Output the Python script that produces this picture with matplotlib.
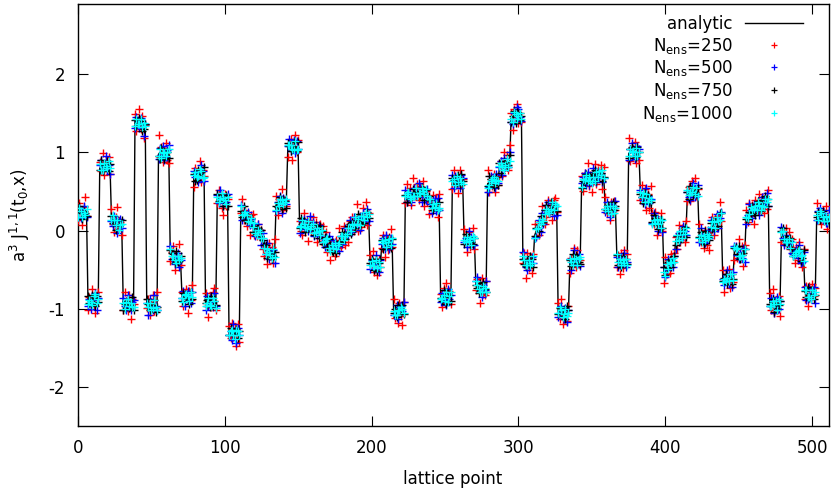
import numpy as np
import matplotlib
matplotlib.use("Agg")
import matplotlib.pyplot as plt

plt.rcParams['font.family'] = ['DejaVu Sans']
plt.rcParams['mathtext.default'] = 'regular'
plt.rcParams['axes.unicode_minus'] = False

# Analytic curve, read per block of 8 lattice points.
# Row k holds lattice points 8k-1 ... 8k+6 (row 0 starts with point 511, periodic lattice).
analytic_blocks = [
    [0.15, 0.22, 0.23, 0.24, 0.22, 0.21, 0.22, 0.23],
    [-0.90, -0.91, -0.90, -0.89, -0.88, -0.88, -0.89, -0.88],
    [0.80, 0.81, 0.82, 0.83, 0.84, 0.84, 0.83, 0.82],
    [0.15, 0.14, 0.12, 0.10, 0.08, 0.07, 0.06, 0.05],
    [-0.94, -0.95, -0.95, -0.94, -0.94, -0.93, -0.94, -0.95],
    [1.40, 1.40, 1.39, 1.38, 1.36, 1.35, 1.33, 1.32],
    [-0.96, -0.97, -0.97, -0.96, -0.96, -0.95, -0.96, -0.97],
    [0.98, 0.99, 0.99, 0.98, 0.98, 0.97, 0.97, 0.98],
    [-0.30, -0.31, -0.33, -0.34, -0.35, -0.36, -0.37, -0.38],
    [-0.84, -0.85, -0.85, -0.86, -0.86, -0.85, -0.85, -0.84],
    [0.70, 0.71, 0.72, 0.72, 0.73, 0.73, 0.72, 0.72],
    [-0.92, -0.93, -0.93, -0.92, -0.92, -0.91, -0.92, -0.93],
    [0.40, 0.41, 0.42, 0.42, 0.41, 0.40, 0.40, 0.39],
    [-1.30, -1.31, -1.32, -1.33, -1.34, -1.33, -1.32, -1.31],
    [0.24, 0.23, 0.22, 0.20, 0.18, 0.16, 0.13, 0.11],
    [0.06, 0.04, 0.02, 0.00, -0.02, -0.04, -0.07, -0.10],
    [-0.24, -0.26, -0.27, -0.28, -0.29, -0.30, -0.30, -0.31],
    [0.33, 0.34, 0.34, 0.35, 0.35, 0.36, 0.37, 0.38],
    [1.06, 1.07, 1.08, 1.09, 1.09, 1.08, 1.07, 1.06],
    [0.08, 0.08, 0.07, 0.07, 0.06, 0.06, 0.07, 0.07],
    [0.05, 0.04, 0.03, 0.01, 0.00, -0.02, -0.03, -0.05],
    [-0.10, -0.12, -0.14, -0.16, -0.18, -0.20, -0.22, -0.24],
    [-0.22, -0.20, -0.17, -0.15, -0.12, -0.10, -0.07, -0.05],
    [-0.02, 0.00, 0.02, 0.04, 0.06, 0.08, 0.10, 0.12],
    [0.12, 0.13, 0.14, 0.15, 0.16, 0.18, 0.19, 0.20],
    [-0.40, -0.41, -0.42, -0.43, -0.44, -0.44, -0.43, -0.42],
    [-0.18, -0.17, -0.16, -0.15, -0.14, -0.13, -0.13, -0.14],
    [-1.02, -1.03, -1.04, -1.04, -1.03, -1.03, -1.02, -1.02],
    [0.42, 0.43, 0.44, 0.45, 0.46, 0.47, 0.48, 0.48],
    [0.50, 0.50, 0.49, 0.49, 0.48, 0.48, 0.47, 0.46],
    [0.36, 0.35, 0.34, 0.33, 0.32, 0.31, 0.30, 0.30],
    [-0.84, -0.85, -0.85, -0.86, -0.86, -0.85, -0.85, -0.84],
    [0.62, 0.63, 0.64, 0.64, 0.65, 0.65, 0.64, 0.64],
    [-0.10, -0.11, -0.12, -0.12, -0.13, -0.13, -0.12, -0.12],
    [-0.70, -0.71, -0.72, -0.73, -0.74, -0.74, -0.73, -0.72],
    [0.60, 0.61, 0.62, 0.62, 0.63, 0.63, 0.62, 0.62],
    [0.80, 0.82, 0.83, 0.84, 0.85, 0.86, 0.87, 0.88],
    [1.44, 1.45, 1.46, 1.47, 1.48, 1.48, 1.47, 1.46],
    [-0.38, -0.39, -0.40, -0.41, -0.41, -0.40, -0.40, -0.39],
    [-0.06, -0.02, 0.02, 0.06, 0.10, 0.14, 0.18, 0.22],
    [0.26, 0.27, 0.28, 0.29, 0.30, 0.30, 0.29, 0.28],
    [-1.03, -1.04, -1.05, -1.06, -1.06, -1.05, -1.05, -1.04],
    [-0.40, -0.39, -0.38, -0.37, -0.37, -0.38, -0.38, -0.39],
    [0.62, 0.63, 0.64, 0.65, 0.66, 0.66, 0.65, 0.65],
    [0.68, 0.69, 0.70, 0.71, 0.72, 0.72, 0.71, 0.70],
    [0.30, 0.29, 0.28, 0.28, 0.27, 0.27, 0.28, 0.28],
    [-0.36, -0.37, -0.38, -0.39, -0.40, -0.40, -0.39, -0.38],
    [0.99, 1.00, 1.01, 1.01, 1.00, 1.00, 0.99, 0.99],
    [0.46, 0.45, 0.44, 0.43, 0.42, 0.41, 0.41, 0.40],
    [0.14, 0.13, 0.12, 0.11, 0.10, 0.10, 0.09, 0.09],
    [-0.55, -0.52, -0.49, -0.46, -0.43, -0.40, -0.37, -0.35],
    [-0.12, -0.10, -0.08, -0.06, -0.04, -0.03, -0.02, 0.00],
    [0.47, 0.48, 0.49, 0.50, 0.50, 0.51, 0.51, 0.50],
    [-0.07, -0.08, -0.09, -0.10, -0.10, -0.09, -0.09, -0.08],
    [0.04, 0.06, 0.08, 0.10, 0.13, 0.15, 0.18, 0.20],
    [-0.60, -0.61, -0.62, -0.62, -0.63, -0.62, -0.61, -0.60],
    [-0.25, -0.26, -0.27, -0.28, -0.29, -0.29, -0.30, -0.30],
    [0.19, 0.21, 0.22, 0.24, 0.25, 0.27, 0.28, 0.30],
    [0.31, 0.32, 0.33, 0.34, 0.35, 0.36, 0.37, 0.38],
    [-0.92, -0.93, -0.94, -0.95, -0.95, -0.95, -0.94, -0.93],
    [-0.04, -0.06, -0.08, -0.10, -0.12, -0.14, -0.17, -0.19],
    [-0.27, -0.28, -0.29, -0.30, -0.31, -0.32, -0.32, -0.33],
    [-0.79, -0.80, -0.81, -0.82, -0.82, -0.81, -0.81, -0.80],
    [0.21, 0.20, 0.19, 0.18, 0.17, 0.16, 0.15, 0.14],
]

# Ensemble estimates: offsets from the analytic value, in units of 0.01,
# same block layout as above.
offsets_250 = """
5 -8 12 3 -15 9 21 -4
-11 6 -3 14 -7 -18 2 10
8 -5 17 -12 4 -2 11 -9
13 -6 -14 7 22 -3 5 -10
-7 16 3 -9 11 -20 6 1
9 -13 -4 18 -6 12 -15 3
-3 10 -11 5 14 -8 -2 19
24 -5 8 -10 3 15 -7 -12
-9 4 13 -16 7 -3 20 -6
6 -12 2 11 -19 8 -4 14
-14 9 -7 3 16 -11 5 -2
12 -3 -17 8 -6 13 19 -8
-5 11 4 -13 -21 7 -9 2
8 -6 14 -3 10 -15 12 -11
-2 17 -9 6 -12 4 -18 9
15 -10 3 -7 11 -4 8 -14
-8 5 -16 12 -3 9 -11 20
11 -14 7 -5 18 -9 2 -6
-12 3 9 -18 6 14 -7 10
4 -9 -13 15 -2 8 -20 7
-6 13 -4 10 -15 3 11 -8
16 -7 12 -11 5 -17 -3 9
-10 8 -5 19 -9 2 13 -14
7 -15 10 -3 12 -8 -1 22
-13 6 -9 14 -6 18 -12 3
9 -2 16 -10 4 -13 7 -5
-4 12 -18 8 -11 5 15 -7
14 -9 3 -14 10 -6 -19 11
-7 17 -5 9 -13 20 -3 6
10 -11 8 -4 15 -16 4 -9
-15 5 -8 13 -2 9 -12 17
3 -13 11 -7 19 -5 8 -10
-9 14 -3 6 -17 12 -6 2
12 -4 -15 10 -8 3 16 -11
-6 9 5 -19 13 -7 -10 8
18 -12 4 -5 10 -14 7 -3
-11 7 -13 16 -4 11 -9 21
6 -16 9 -2 14 -10 3 -7
-3 10 -20 12 -7 5 -14 9
15 -5 7 -11 2 17 -8 -13
-8 12 -6 4 -16 9 13 -4
11 -9 18 -13 6 -3 -11 7
-14 4 -7 15 -10 13 -5 2
8 -12 10 -4 20 -9 6 -15
-5 16 -10 7 -3 12 -18 11
13 -7 4 -14 9 -5 10 -2
-10 6 -17 11 -8 15 -4 8
19 -11 5 -6 13 -13 2 -9
-7 14 -3 10 -15 6 -12 17
9 -4 12 -16 3 -8 14 -10
-12 18 -6 5 -11 10 -2 7
4 -14 15 -9 7 -4 -13 12
-9 8 -11 13 -5 16 -7 3
16 -6 2 -12 11 -10 9 -17
-4 11 -14 6 -9 4 18 -8
10 -17 7 -3 14 -12 5 -6
-13 3 -8 17 -6 9 -15 12
7 -10 13 -5 8 -18 11 -2
-6 15 -4 9 -12 6 -9 14
12 -8 19 -11 4 -7 10 -16
-11 5 -9 14 -3 12 -6 8
5 -13 8 -7 16 -9 -14 10
-8 9 -16 11 -5 13 -3 6
14 -7 6 -10 9 -4 17 -12
"""

offsets_500 = """
12 -4 6 -8 3 10 -2 -6
-7 3 -10 5 -1 8 -13 2
4 9 -5 -2 11 -6 1 -9
-3 -8 7 2 -11 5 9 -1
8 -2 -6 12 -4 -9 3 6
-9 5 1 -7 8 2 -12 4
3 -11 9 -3 -6 13 -1 -5
-6 7 -2 10 -8 -3 6 11
10 -5 4 -9 2 7 -10 1
-2 8 -12 3 9 -4 -7 5
6 -3 2 -10 -5 11 4 -8
-10 9 -4 6 1 -7 12 -3
5 -6 10 -1 -9 3 -4 8
-4 2 -8 13 6 -11 7 -2
9 -10 3 -5 -2 8 -6 4
-1 6 -9 2 10 -3 -11 7
7 -4 11 -8 3 -1 5 -10
-8 3 -2 9 -12 6 1 -4
2 10 -6 -3 7 -9 8 -1
-11 -2 5 8 -4 3 -7 12
4 7 -10 1 -6 9 -3 -5
-5 -9 6 -4 11 -2 10 3
8 1 -3 -11 5 -7 2 9
-3 -6 12 4 -8 10 -5 -1
6 -12 2 7 -3 -4 9 -8
-9 4 -1 -6 13 2 -10 5
1 8 -7 10 -2 -11 4 -3
-6 -3 9 -9 5 7 -1 11
10 -7 -4 3 -10 1 6 -2
-2 11 5 -12 4 -5 -8 7
3 -1 -11 6 8 -6 12 -4
-7 5 2 -3 -9 10 -2 1
9 -8 6 -1 -4 -10 7 3
-4 2 -9 11 1 5 -6 -7
5 12 -2 -6 -11 4 -3 8
-10 -5 8 2 6 -9 11 -1
2 7 -12 9 -3 -2 -5 13
-5 -9 4 -4 10 8 -1 -6
11 3 -7 -10 2 -4 6 -3
-3 -6 1 8 -12 9 -9 4
7 10 -5 -2 5 -11 3 -8
-8 -1 9 4 -7 6 -12 2
4 -11 -3 12 -1 -5 8 -6
-1 6 10 -7 9 -8 -2 5
12 -4 -8 3 -5 2 -9 -3
-6 8 3 -11 7 -1 4 10
2 -10 -6 5 -3 11 -7 -2
-9 4 11 -1 -8 -4 9 6
6 -2 -5 -9 12 3 -6 1
-4 9 7 2 -10 -7 5 -11
8 -7 -1 10 4 -3 -9 3
-12 3 5 -6 -2 9 2 -5
3 -5 -10 7 11 -8 -4 8
-7 11 2 -4 -6 5 10 -1
10 -3 -9 1 8 -12 -2 4
-2 -8 6 11 -5 3 -11 7
5 6 -4 -8 2 -6 8 -10
-10 -1 12 3 -9 7 -3 2
1 -12 -2 9 5 -2 11 -7
-5 7 8 -10 -1 10 -6 3
9 -4 -11 4 -7 -3 4 -9
-3 2 4 -5 12 -10 -8 6
7 -9 -6 8 -4 1 9 -12
-8 5 10 -2 3 6 -5 -4
"""

offsets_750 = """
-5 3 8 -2 -7 4 1 -4
6 -1 -4 7 2 -8 5 -3
-2 9 -6 1 -3 5 -7 3
4 -4 2 -9 6 -1 3 8
-7 1 5 3 -5 -2 9 -6
2 -6 -1 6 4 -7 -3 5
8 3 -5 -4 1 6 -8 -1
-3 -7 7 2 -6 3 4 -5
5 2 -3 -8 9 -4 -2 6
-6 5 4 1 -2 -9 7 -3
3 -8 -7 5 -1 2 -4 9
-1 4 6 -6 8 -5 2 -2
7 -3 -2 4 -9 1 6 -7
-4 6 1 -1 3 7 -6 2
1 -5 9 -7 -4 4 -1 5
-8 2 -4 3 6 -3 8 -2
5 7 -8 -2 2 -6 -3 4
-2 -4 3 8 -7 5 1 -9
6 1 -6 -3 4 -1 -5 7
-5 8 2 5 -8 3 -2 -1
2 -3 -9 6 1 -7 9 4
-7 4 5 -5 7 2 -4 -3
4 -9 -1 2 -2 8 3 -6
-3 6 7 -8 5 -4 -7 1
9 -2 -5 4 -6 1 5 -4
-1 5 3 -7 8 -8 2 6
6 -6 1 -1 -3 4 -9 3
-4 3 -7 9 2 -2 7 -5
3 -7 6 -4 -5 6 -1 2
-6 1 -3 7 4 -9 5 -2
8 4 -2 -6 -1 3 -4 7
-2 -5 9 1 -8 5 2 -6
5 2 -4 -3 6 -6 8 -1
-7 7 1 4 -4 -1 -5 3
1 -3 -8 6 3 8 -2 -7
-3 9 4 -2 -7 2 6 -4
6 -8 -2 5 1 -5 -3 9
-5 2 7 -9 4 3 -6 1
2 -4 -5 3 -2 7 4 -8
-1 6 2 -6 9 -3 -7 5
7 -1 -6 8 -5 1 3 -3
-4 5 3 -1 -3 -8 9 2
3 -6 8 -5 6 4 -2 -4
-8 1 -3 7 -1 -4 5 6
4 8 -7 -2 3 2 -8 -1
-2 -3 5 1 -6 9 -1 4
5 -7 -1 -8 7 -2 3 -5
-6 4 6 3 -4 -6 8 1
1 -2 -9 5 2 5 -5 -3
-3 7 4 -4 -8 1 6 -6
8 -5 1 6 5 -7 -3 2
-7 3 -6 -3 1 4 7 -8
2 -8 8 2 -5 -1 -4 5
-1 6 -2 -7 9 3 1 -4
6 -4 -5 4 -2 -9 5 3
-5 1 7 -6 3 6 -7 -2
3 5 -3 8 -7 -2 2 6
-4 -6 2 -1 6 -5 -8 4
7 2 -8 5 -3 8 4 -7
-2 -3 6 -9 2 -4 -1 3
4 9 -4 3 -6 1 7 -5
-6 -2 1 7 5 -7 -3 8
2 -5 9 -4 -1 5 -6 -2
-3 4 -6 2 8 -3 3 1
"""

offsets_1000 = """
3 -4 6 1 -5 2 -2 5
-4 2 -1 -6 4 7 -3 1
5 -3 -5 3 -1 -4 6 -2
-1 6 2 -3 5 -6 1 4
2 -5 4 6 -2 1 -4 -3
-6 3 -2 -1 7 -3 5 2
4 -1 5 -5 -3 6 -2 -4
-3 5 -6 2 1 -2 4 6
6 -2 1 -4 -6 4 -1 3
-2 -6 3 5 2 -5 7 -1
1 4 -4 -2 6 3 -5 -3
-5 1 7 -3 -4 5 2 -6
3 -5 -2 6 1 -1 -6 4
-4 2 5 -1 -5 6 3 -2
7 -3 -1 4 2 -4 -2 5
-1 6 -5 -6 3 2 -3 1
2 -4 4 1 -2 -5 6 -3
-6 1 -3 5 4 -2 -1 3
4 3 2 -4 -6 7 -4 -1
-3 -2 6 2 -1 -3 5 -5
1 5 -6 -3 4 1 -2 6
-5 -1 3 6 -4 -6 4 2
6 -4 -2 -1 5 3 -5 -2
-2 3 1 -5 2 -1 7 -4
3 -6 5 4 -3 6 -1 1
-4 2 -3 -2 6 -4 3 -5
5 1 4 -6 -1 2 -6 4
-1 -5 -4 3 1 5 2 -3
2 4 6 -2 -5 -3 -4 6
-6 -2 -1 5 3 -1 6 -2
4 6 -5 1 -2 4 -3 -1
-3 -1 2 -4 7 -6 1 5
1 3 -6 6 -3 2 -2 -4
-2 -4 4 -1 2 -5 5 3
6 2 -3 -5 -4 3 -1 -6
-5 -3 1 4 5 -2 3 2
3 5 -2 -6 -1 6 -5 1
-1 -6 6 2 -5 -1 4 -3
5 1 -4 -3 3 -4 -2 6
-4 4 2 5 -2 1 -6 -1
2 -2 -5 -1 6 -3 5 3
-3 6 3 -4 -1 5 -4 -2
4 -1 -6 2 1 -6 2 5
-6 3 1 6 -3 2 -1 -4
1 -5 5 -2 4 -1 6 -3
-2 2 -3 3 -6 4 -5 1
6 -3 2 -5 2 -2 3 -6
-4 5 -1 1 -4 6 -3 2
3 -2 4 -6 5 -5 1 -1
-5 1 -2 4 -1 3 -6 4
2 -6 6 -3 3 -1 2 -5
-1 4 -4 5 -5 2 -2 3
5 -3 1 -1 6 -4 4 -6
-3 2 -5 3 -2 5 -1 1
1 6 3 -6 4 -3 -4 2
-6 -1 -2 2 -1 6 5 -3
4 3 5 -4 -3 -2 -6 6
-2 -5 -1 6 2 1 3 -4
6 1 -6 -2 -5 4 -1 2
-4 -3 4 1 5 -6 6 -1
2 5 -3 -5 -2 3 -5 4
-5 -2 2 4 6 -1 1 -6
3 4 -4 -3 -6 5 -2 1
-1 -6 6 5 1 -4 4 -2
"""

series_labels = ['analytic', r'N$_{ens}$=250', r'N$_{ens}$=500',
                 r'N$_{ens}$=750', r'N$_{ens}$=1000']
series_colors = ['#ff0000', '#0000ff', '#000000', '#00ffff']
x_ticks = [0, 100, 200, 300, 400, 500]
y_ticks = [-2, -1, 0, 1, 2]


def to_lattice_order(block_values):
    # block layout starts at lattice point -1 (== 511); shift to 0..511
    arr = np.asarray(block_values, dtype=float).ravel()
    assert arr.size == 512
    return np.roll(arr, -1)


analytic = to_lattice_order(analytic_blocks)
lattice = np.arange(analytic.size)
ensembles = []
for text in (offsets_250, offsets_500, offsets_750, offsets_1000):
    off = to_lattice_order(np.array(text.split(), dtype=float))
    ensembles.append(analytic + off / 100.0)

W, H = 831, 498
fig = plt.figure(figsize=(W / 100, H / 100), dpi=100)
L, R, T, B = 77.7, 828.5, 4.0, 426.0
ax = fig.add_axes([L / W, 1 - B / H, (R - L) / W, (B - T) / H])

ax.plot(lattice, analytic, color='black', lw=1.0, label=series_labels[0], zorder=2)
for vals, col, lab in zip(ensembles, series_colors, series_labels[1:]):
    ax.plot(lattice, vals, ls='none', marker='+', ms=5.8, mew=1.0,
            color=col, label=lab, zorder=3)

ax.set_xlim(0, 511)
ax.set_ylim(-2.5, 2.9)
ax.set_xticks(x_ticks)
ax.set_yticks(y_ticks)
ax.tick_params(direction='in', length=7, width=0.8, top=True, right=True,
               labelsize=12, colors='black')
ax.tick_params(axis='x', pad=9)
ax.tick_params(axis='y', pad=9)
for sp in ax.spines.values():
    sp.set_linewidth(1.0)

ax.set_xlabel('lattice point', fontsize=12, labelpad=10)
ax.set_ylabel(r'a$^3$ J$^{1,1}$(t$_0$,x)', fontsize=12, labelpad=12)

leg = ax.legend(loc='upper right', bbox_to_anchor=((803 - L) / (R - L), (B - 15) / (B - T)),
                frameon=False, markerfirst=False, handlelength=3.5,
                handletextpad=0.7, borderpad=0, borderaxespad=0,
                labelspacing=0.16, fontsize=12, numpoints=1)
for h in leg.legend_handles[1:]:
    h.set_markersize(4.5)
    h.set_markeredgewidth(0.9)

fig.savefig('out.png', dpi=100)
